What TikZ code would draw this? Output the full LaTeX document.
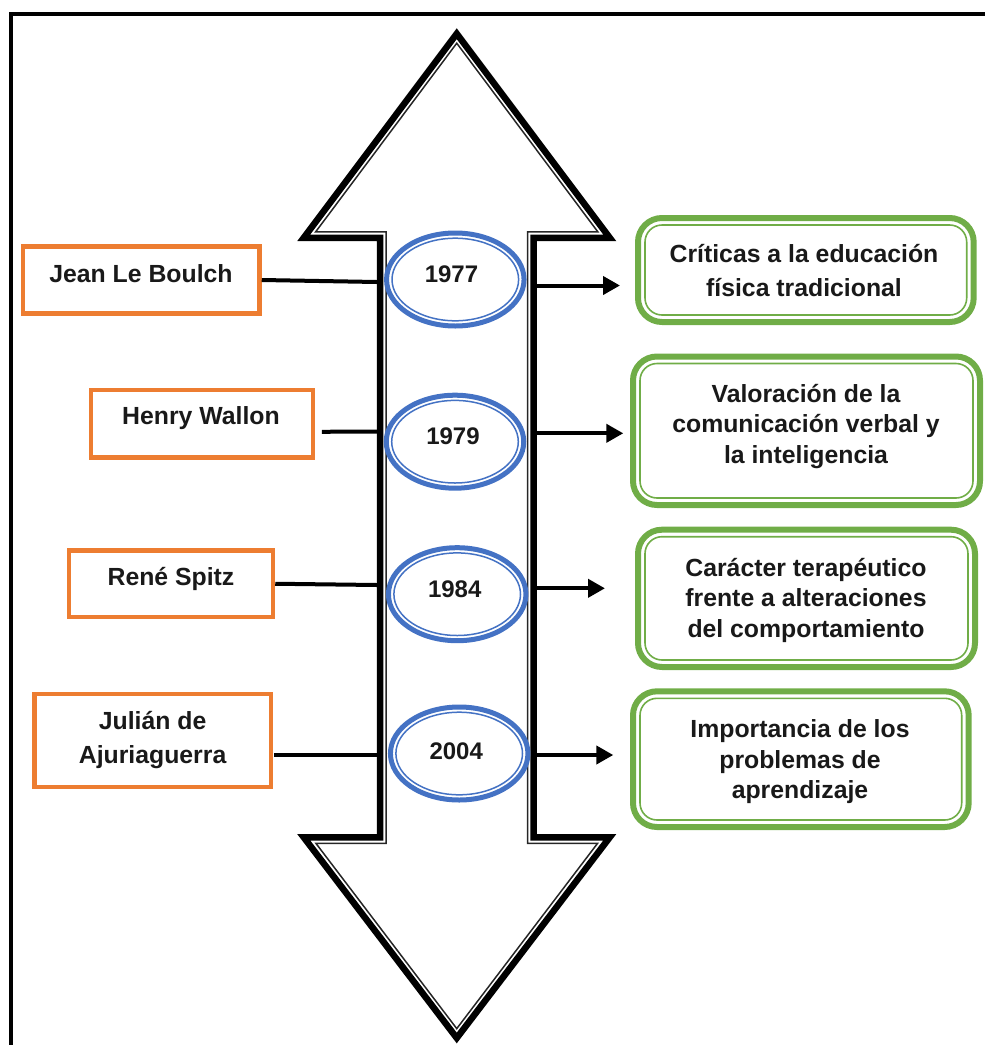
\documentclass[tikz,border=0pt]{standalone}
\usepackage{fontspec}
\setmainfont{Liberation Sans}
\usetikzlibrary{shapes.geometric,arrows.meta}
\definecolor{orng}{HTML}{ED7D31}
\definecolor{grn}{HTML}{70AD47}
\definecolor{blu}{HTML}{4472C4}
\begin{document}
\begin{tikzpicture}[x=1pt,y=-1pt,
  obox/.style={draw=orng,line width=4.5pt,rectangle,inner sep=0pt},
  gbox/.style={draw=grn,line width=6pt,rectangle,rounded corners=24pt,inner sep=0pt,outer sep=0pt},
  gthin/.style={draw=grn,line width=1.6pt,rounded corners=17pt},
  ebox/.style={ellipse,draw=blu,line width=5pt,fill=white,inner sep=0pt,outer sep=0pt,minimum width=137.5pt,minimum height=93pt},
  ethin/.style={draw=blu,line width=1.5pt},
  bigarrowout/.style={draw=black,line width=6.5pt,line join=miter},
  bigarrowin/.style={draw=black!85,line width=1.5pt,line join=miter},
  conn/.style={draw=black,line width=4pt},
  arr/.style={conn,-{Triangle[length=17pt,width=18pt]}},
  tx/.style={font=\fontsize{24.8}{34}\selectfont\bfseries,align=center,inner sep=0pt,text=black!90},
  txx/.style={font=\fontsize{24.8}{30.5}\selectfont\bfseries,align=center,inner sep=0pt,text=black!90},
  yr/.style={font=\fontsize{24}{28}\selectfont\bfseries,inner sep=0pt,text=black!90}]
\path[use as bounding box] (0,0) rectangle (985,1045);
\clip (0,0) rectangle (985,1045);

% frame
\draw[line width=4.5pt] (10.8,1060) -- (10.8,14.2) -- (1000,14.2);

% double-headed arrow (thick outer + thin inner line)
\draw[bigarrowout] (456.75,33.7) -- (609.75,237.8) -- (533.5,237.8) -- (533.5,837.3)
  -- (609.75,837.3) -- (456.75,1038) -- (303.75,837.3) -- (380,837.3)
  -- (380,237.8) -- (303.75,237.8) -- cycle;
\draw[bigarrowin] (456.75,43.2) -- (597.8,231.8) -- (527.5,231.8) -- (527.5,843.3)
  -- (597.6,843.3) -- (456.75,1028.6) -- (315.9,843.3) -- (386,843.3)
  -- (386,231.8) -- (315.7,231.8) -- cycle;

% shaft attachment points and arrow tips
\coordinate (sl1) at (377,282);
\coordinate (sl2) at (377,431.7);
\coordinate (sl3) at (377,585);
\coordinate (sl4) at (377,755);
\coordinate (sr1) at (536.7,285.5);
\coordinate (sr2) at (536.7,433.3);
\coordinate (sr3) at (536.7,588.3);
\coordinate (sr4) at (536.7,755);
\coordinate (tp1) at (620,285.5);
\coordinate (tp2) at (623.3,433.3);
\coordinate (tp3) at (605,588.3);
\coordinate (tp4) at (613.3,755);

% year ellipses
\node[ebox] (e1) at (455.3,279.5) {};
\node[ebox] (e2) at (455,441.7) {};
\node[ebox] (e3) at (457.2,594.2) {};
\node[ebox] (e4) at (459.2,753.5) {};
\draw[ethin] (e1.center) ellipse [x radius=63.3pt, y radius=41.3pt];
\draw[ethin] (e2.center) ellipse [x radius=63.3pt, y radius=41.3pt];
\draw[ethin] (e3.center) ellipse [x radius=63.3pt, y radius=41.3pt];
\draw[ethin] (e4.center) ellipse [x radius=63.3pt, y radius=41.3pt];
\node[yr] (y1) at (451.5,274.7) {1977};
\node[yr] (y2) at (453,436.4) {1979};
\node[yr] (y3) at (454.7,589.7) {1984};
\node[yr] (y4) at (456.2,751.4) {2004};

% left orange boxes
\node[obox,minimum width=236.5pt,minimum height=67pt] (jean) at (141.25,280) {};
\node[tx] (tjean) at (141,274) {Jean Le Boulch};
\node[obox,minimum width=222pt,minimum height=67.5pt] (henry) at (202,423.75) {};
\node[tx] (thenry) at (201,418.5) {Henry Wallon};
\node[obox,minimum width=204pt,minimum height=66.5pt] (rene) at (171,583.75) {};
\node[tx] (trene) at (171,578.5) {René Spitz};
\node[obox,minimum width=236.5pt,minimum height=93pt] (julian) at (152.75,740.5) {};
\node[tx] (tjulian) at (152.6,740.5) {Julián de\\Ajuriaguerra};

% right green boxes
\node[gbox,minimum width=335.7pt,minimum height=104pt] (g1) at (805.85,270) {};
\draw[gthin] ([shift={(7,7)}]g1.north west) rectangle ([shift={(-7,-7)}]g1.south east);
\node[tx] (tg1) at (804,270.8) {Críticas a la educación\\física tradicional};
\node[gbox,minimum width=347pt,minimum height=148.5pt] (g2) at (806.5,430.75) {};
\draw[gthin] ([shift={(7,7)}]g2.north west) rectangle ([shift={(-7,-7)}]g2.south east);
\node[txx] (tg2) at (806,426.5) {Valoración de la\\comunicación verbal y\\la inteligencia};
\node[gbox,minimum width=337pt,minimum height=137.3pt] (g3) at (806.5,598.35) {};
\draw[gthin] ([shift={(7,7)}]g3.north west) rectangle ([shift={(-7,-7)}]g3.south east);
\node[txx] (tg3) at (806,600.2) {Carácter terapéutico\\frente a alteraciones\\del comportamiento};
\node[gbox,minimum width=335.7pt,minimum height=135.7pt] (g4) at (800.85,759.15) {};
\draw[gthin] ([shift={(7,7)}]g4.north west) rectangle ([shift={(-7,-7)}]g4.south east);
\node[txx] (tg4) at (800,761.8) {Importancia de los\\problemas de\\aprendizaje};

% connectors
\draw[conn] (jean.east) -- (sl1);
\draw[conn] ([shift={(6.5,8)}]henry.east) -- (sl2);
\draw[conn] (rene.east) -- (sl3);
\draw[conn] ([shift={(1,14.5)}]julian.east) -- (sl4);
\draw[arr] (sr1) -- (tp1);
\draw[arr] (sr2) -- (tp2);
\draw[arr] (sr3) -- (tp3);
\draw[arr] (sr4) -- (tp4);
\end{tikzpicture}
\end{document}
